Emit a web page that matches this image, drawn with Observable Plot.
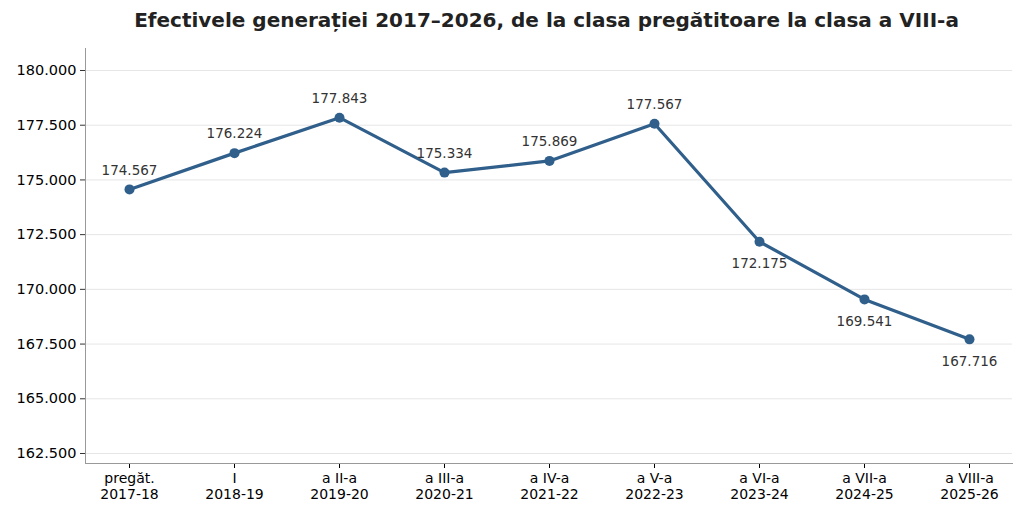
<!DOCTYPE html>
<html><head><meta charset="utf-8">
<script src="https://cdn.jsdelivr.net/npm/d3@7"></script>
<script src="https://cdn.jsdelivr.net/npm/@observablehq/plot@0.6"></script>
<style>
body{margin:0;background:#fff;font-family:"DejaVu Sans",sans-serif;}
h1{margin:0;height:40px;line-height:40px;font-size:20px;font-weight:bold;color:#222;text-align:center;padding-left:70px;}
</style></head><body>
<h1>Efectivele generației 2017–2026, de la clasa pregătitoare la clasa a VIII-a</h1>
<div id="c"></div>
<script>
const grades = ["pregăt.","I","a II-a","a III-a","a IV-a","a V-a","a VI-a","a VII-a","a VIII-a"];
const years = ["2017-18","2018-19","2019-20","2020-21","2021-22","2022-23","2023-24","2024-25","2025-26"];
const values = [174567,176224,177843,175334,175869,177567,172175,169541,167716];
const labelBelow = [false,false,false,false,false,false,true,true,true];
const yTicks = [162500,165000,167500,170000,172500,175000,177500,180000];

const loc = d3.formatLocale({decimal:",",thousands:".",grouping:[3],currency:["","€"]});
const f0 = loc.format(",d");
const data = grades.map((g,i)=>({g, label:g+"\n"+years[i], v:values[i], below:labelBelow[i]}));
const color = "#2f5f8a";
const plot = Plot.plot({
  width:1023, height:474, marginTop:8, marginBottom:51, marginLeft:85, marginRight:11,
  style:{fontFamily:"DejaVu Sans, sans-serif", fontSize:"14px", color:"#000"},
  x:{type:"point", domain:data.map(d=>d.label), padding:0.4, label:null},
  y:{domain:[162043,181005], label:null},
  marks:[
    Plot.gridY(yTicks,{stroke:"#e6e6e6", strokeOpacity:1}),
    Plot.axisY({ticks:yTicks, tickFormat:d=>f0(d), label:null, fontSize:14.5, tickSize:5, stroke:"#333", fill:"#000"}),
    Plot.axisX({label:null, fontSize:14, tickSize:5, lineHeight:1.1, fill:"#000"}),
    Plot.frame({anchor:"bottom", stroke:"#999"}),
    Plot.frame({anchor:"left", stroke:"#999"}),
    Plot.lineY(data,{x:"label", y:"v", stroke:color, strokeWidth:3.2}),
    Plot.dot(data,{x:"label", y:"v", fill:color, r:5}),
    Plot.text(data.filter(d=>!d.below),{x:"label", y:"v", text:d=>f0(d.v), dy:-19, fill:"#333", fontSize:13.5}),
    Plot.text(data.filter(d=>d.below),{x:"label", y:"v", text:d=>f0(d.v), dy:22, fill:"#333", fontSize:13.5})
  ]
});
document.getElementById("c").appendChild(plot);
</script></body></html>
